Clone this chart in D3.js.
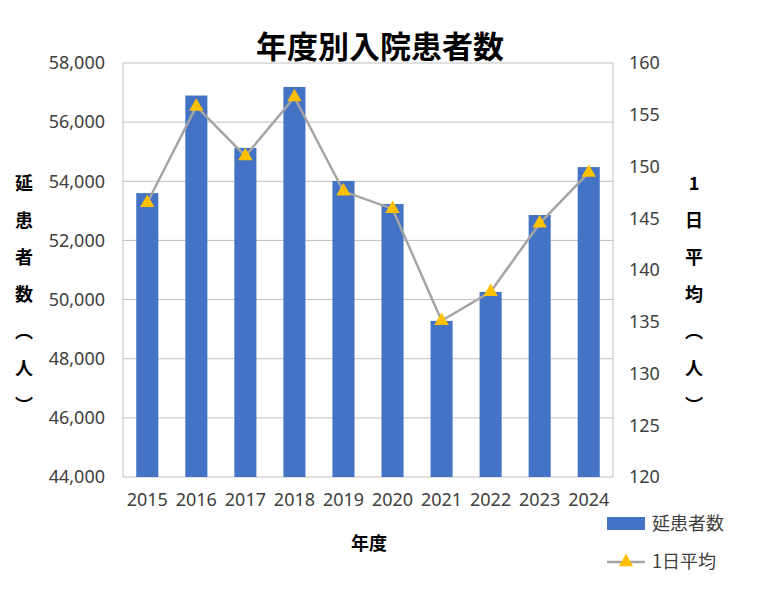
<!DOCTYPE html>
<html><head><meta charset="utf-8">
<script src="https://cdn.jsdelivr.net/npm/d3@7"></script>
<style>body{margin:0;background:#fff;font-family:"Noto Sans CJK JP","Noto Sans",sans-serif}</style>
</head><body><svg width="758" height="591"></svg>
<script>
var years = ["2015","2016","2017","2018","2019","2020","2021","2022","2023","2024"];
var patients = [53600,56900,55130,57190,54010,53230,49280,50260,52860,54480];
var daily = [146.5,155.8,151.0,156.7,147.6,145.9,135.1,137.9,144.5,149.4];
var leftTicks = [44000,46000,48000,50000,52000,54000,56000,58000];
var rightTicks = [120,125,130,135,140,145,150,155,160];

var svg = d3.select("svg"),
    margin = {left:123, right:145, top:63, bottom:114},
    width = 758 - margin.left - margin.right,
    height = 591 - margin.top - margin.bottom,
    g = svg.append("g").attr("transform","translate("+margin.left+","+margin.top+")");

var x = d3.scaleBand().domain(years).range([0,width]).paddingInner(0.55).paddingOuter(0.27);
var y = d3.scaleLinear().domain([44000,58000]).range([height,0]);
var y2 = d3.scaleLinear().domain([120,160]).range([height,0]);

// grid
g.selectAll(".grid").data(leftTicks).enter().append("line")
  .attr("x1",0).attr("x2",width).attr("y1",d=>y(d)).attr("y2",d=>y(d))
  .attr("stroke","#bfbfbf").attr("stroke-width",1);
g.append("line").attr("x1",0).attr("x2",0).attr("y1",0).attr("y2",height).attr("stroke","#bfbfbf");
g.append("line").attr("x1",width).attr("x2",width).attr("y1",0).attr("y2",height).attr("stroke","#bfbfbf");

g.selectAll(".bar").data(patients).enter().append("rect")
  .attr("x",(d,i)=>x(years[i])).attr("width",x.bandwidth())
  .attr("y",d=>y(d)).attr("height",d=>height-y(d)).attr("fill","#4472c4");

var line = d3.line().x((d,i)=>x(years[i])+x.bandwidth()/2).y(d=>y2(d));
g.append("path").datum(daily).attr("d",line).attr("fill","none")
  .attr("stroke","#a5a5a5").attr("stroke-width",2.5);
var tri = d3.symbol().type(d3.symbolTriangle).size(90);
g.selectAll(".pt").data(daily).enter().append("path").attr("d",tri)
  .attr("transform",(d,i)=>"translate("+(x(years[i])+x.bandwidth()/2)+","+y2(d)+")")
  .attr("fill","#ffc000");

var fs = "18px";
var ax = g.append("g").attr("transform","translate(0,"+height+")")
  .call(d3.axisBottom(x).tickSize(0).tickPadding(16));
var ay = g.append("g").call(d3.axisLeft(y).tickValues(leftTicks).tickSize(0).tickPadding(18));
var ay2 = g.append("g").attr("transform","translate("+width+",0)")
  .call(d3.axisRight(y2).tickValues(rightTicks).tickSize(0).tickPadding(16));
[ax,ay,ay2].forEach(a=>{a.select(".domain").remove();
  a.selectAll("text").attr("font-size",fs).attr("fill","#404040").attr("font-family","Noto Sans, sans-serif");});

svg.append("text").attr("x",380).attr("y",58).attr("text-anchor","middle")
  .attr("font-size","31px").attr("font-weight","bold").text("年度別入院患者数");
svg.append("text").attr("x",369).attr("y",550).attr("text-anchor","middle")
  .attr("font-size","18px").attr("font-weight","bold").text("年度");

var lt = ["延","患","者","数","︵","人","︶"];
svg.selectAll(".lt").data(lt).enter().append("text").attr("x",24).attr("y",(d,i)=>190+i*37)
  .attr("text-anchor","middle").attr("font-size","18px").attr("font-weight","bold").text(d=>d);
var rt = ["1","日","平","均","︵","人","︶"];
svg.selectAll(".rt").data(rt).enter().append("text").attr("x",694).attr("y",(d,i)=>190+i*37)
  .attr("text-anchor","middle").attr("font-size","18px").attr("font-weight","bold").text(d=>d);

// legend
svg.append("rect").attr("x",607).attr("y",517).attr("width",38).attr("height",13).attr("fill","#4472c4");
svg.append("text").attr("x",652).attr("y",530).attr("font-size","18px").attr("fill","#404040").text("延患者数");
svg.append("line").attr("x1",607).attr("x2",645).attr("y1",562).attr("y2",562).attr("stroke","#a5a5a5").attr("stroke-width",2.5);
svg.append("path").attr("d",tri).attr("transform","translate(626,562)").attr("fill","#ffc000");
svg.append("text").attr("x",652).attr("y",568).attr("font-size","18px").attr("fill","#404040").text("1日平均");
</script></body></html>
